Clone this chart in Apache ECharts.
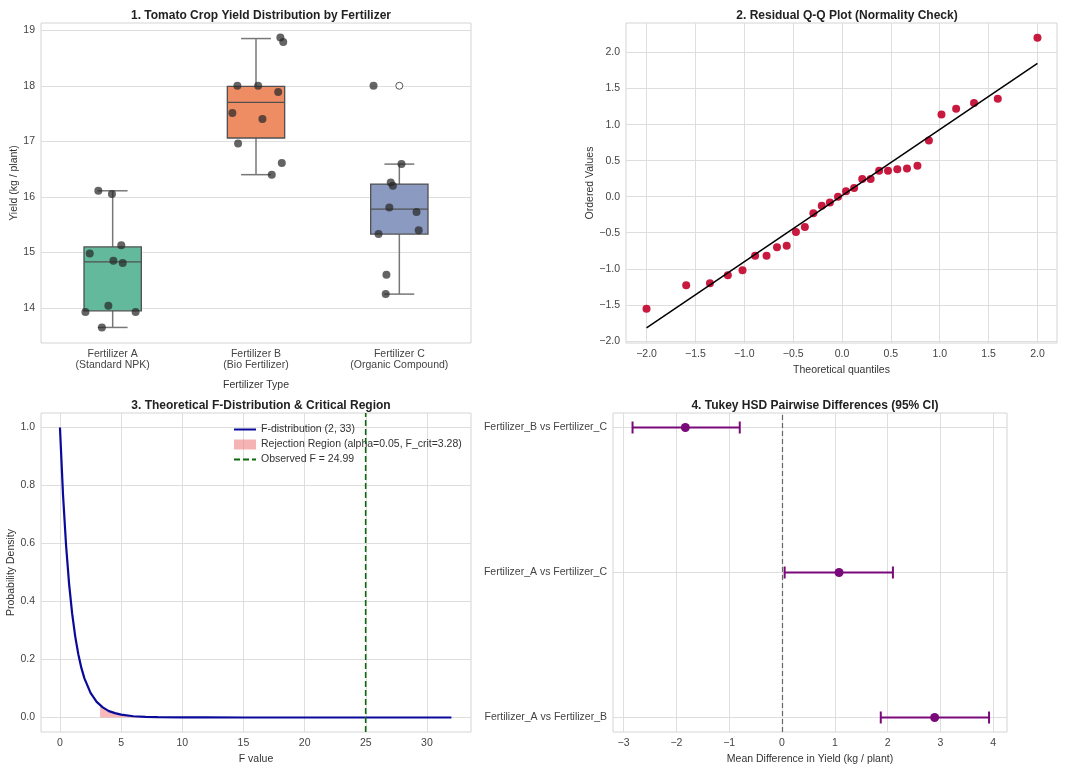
<!DOCTYPE html>
<html>
<head>
<meta charset="utf-8">
<title>Tomato Fertilizer ANOVA</title>
<script src="https://cdn.jsdelivr.net/npm/echarts@6/dist/echarts.min.js"></script>
<style>
html,body{margin:0;padding:0;background:#fff;}
#main{width:1080px;height:769px;}
</style>
</head>
<body>
<div id="main"></div>
<script>
// ---- panel 1: yield per fertilizer ----
var groups = ['Fertilizer A\n(Standard NPK)', 'Fertilizer B\n(Bio Fertilizer)', 'Fertilizer C\n(Organic Compound)'];
// [low whisker, Q1, median, Q3, high whisker]
var boxA = [13.65, 13.95, 14.83, 15.10, 16.11];
var boxB = [16.40, 17.06, 17.70, 17.99, 18.85];
var boxC = [14.25, 15.33, 15.78, 16.23, 16.59];
var yieldA = [16.11, 16.05, 15.13, 14.98, 14.85, 14.81, 14.04, 13.93, 13.93, 13.65];
var jitterA = [-0.10, -0.005, 0.06, -0.16, 0.005, 0.07, -0.03, -0.19, 0.16, -0.075];
var yieldB = [18.87, 18.79, 18.00, 18.00, 17.89, 17.51, 17.40, 16.96, 16.61, 16.40];
var jitterB = [0.17, 0.19, -0.13, 0.015, 0.155, -0.165, 0.045, -0.125, 0.18, 0.11];
var yieldC = [18.00, 16.59, 16.26, 16.20, 15.81, 15.73, 15.40, 15.33, 14.60, 14.25];
var jitterC = [-0.18, 0.015, -0.06, -0.045, -0.07, 0.12, 0.135, -0.145, -0.09, -0.095];
var outlierGroup = [2];
var outlierValue = [18.0];
var yieldTicks = [14, 15, 16, 17, 18, 19];

// ---- panel 2: Q-Q plot ----
var qqTheo = [-2.0, -1.594, -1.351, -1.168, -1.018, -0.889, -0.772, -0.665, -0.566, -0.471,
  -0.380, -0.293, -0.207, -0.124, -0.041, 0.041, 0.124, 0.207, 0.293, 0.380,
  0.471, 0.566, 0.665, 0.772, 0.889, 1.018, 1.168, 1.351, 1.594, 2.0];
var qqResid = [-1.555, -1.227, -1.20, -1.09, -1.02, -0.82, -0.82, -0.70, -0.68, -0.49,
  -0.42, -0.23, -0.125, -0.08, 0.0, 0.074, 0.12, 0.245, 0.245, 0.36,
  0.36, 0.38, 0.39, 0.43, 0.78, 1.14, 1.22, 1.30, 1.36, 2.205];
var qqLineX = [-2.0, 2.0];
var qqLineY = [-1.82, 1.85];
var qqXTicks = [-2.0, -1.5, -1.0, -0.5, 0.0, 0.5, 1.0, 1.5, 2.0];
var qqYTicks = [-2.0, -1.5, -1.0, -0.5, 0.0, 0.5, 1.0, 1.5, 2.0];

// ---- panel 3: F distribution ----
var fX = [0, 0.25, 0.5, 0.75, 1, 1.25, 1.5, 1.75, 2, 2.5, 3, 3.5, 4, 4.5, 5, 6, 7, 8, 10, 12, 15, 20, 25, 32];
var fY = [1.0, 0.768, 0.593, 0.459, 0.357, 0.279, 0.218, 0.171, 0.135, 0.085, 0.054, 0.035, 0.022, 0.015, 0.0097, 0.0044, 0.0021, 0.001, 0.00025, 0.0001, 0, 0, 0, 0];
var rejX = [3.28, 3.5, 4, 4.5, 5, 6, 7, 8, 10, 12, 15, 20, 25, 32];
var rejY = [0.042, 0.035, 0.022, 0.015, 0.0097, 0.0044, 0.0021, 0.001, 0.00025, 0.0001, 0, 0, 0, 0];
var observedF = 24.99;
var fXTicks = [0, 5, 10, 15, 20, 25, 30];
var fYTicks = [0, 0.2, 0.4, 0.6, 0.8, 1.0];

// ---- panel 4: Tukey HSD ----
var pairs = ['Fertilizer_A vs Fertilizer_B', 'Fertilizer_A vs Fertilizer_C', 'Fertilizer_B vs Fertilizer_C'];
var meanDiff = [2.89, 1.08, -1.83];
var ciLow = [1.87, 0.05, -2.83];
var ciHigh = [3.92, 2.10, -0.80];
var tukeyTicks = [-3, -2, -1, 0, 1, 2, 3, 4];
var pairTicks = [0, 1, 2];

var FONT = '"Liberation Sans", Arial, sans-serif';
var boxColors = ['#63b99b', '#ee8c64', '#8b9ac1'];

function fmt(v, d) {
  var s = d == null ? String(v) : v.toFixed(d);
  return s.replace('-', '\u2212');
}

function valAxis(o) {
  var base = {
    type: 'value',
    axisLine: {show: false},
    axisTick: {show: false, customValues: o.ticks},
    axisLabel: {customValues: o.ticks, color: '#444', fontSize: 10.5, fontFamily: FONT, margin: 6, formatter: o.formatter},
    splitLine: {show: o.split !== false, lineStyle: {color: '#dedede', width: 1}},
    nameTextStyle: {color: '#333', fontSize: 10.5, fontFamily: FONT},
    nameLocation: 'middle'
  };
  delete o.ticks; delete o.formatter; delete o.split;
  return Object.assign(base, o);
}

var boxData = [boxA, boxB, boxC].map(function (b, i) { return [i].concat(b); });
var dots = [];
[[yieldA, jitterA], [yieldB, jitterB], [yieldC, jitterC]].forEach(function (g, i) {
  g[0].forEach(function (v, k) { dots.push([i + g[1][k], v]); });
});
var outliers = outlierGroup.map(function (g, i) { return [g, outlierValue[i]]; });
var qqPts = qqTheo.map(function (x, i) { return [x, qqResid[i]]; });
var qqLine = qqLineX.map(function (x, i) { return [x, qqLineY[i]]; });
var fCurve = fX.map(function (x, i) { return [x, fY[i]]; });
var rejArea = rejX.map(function (x, i) { return [x, rejY[i]]; });
var tukeyBars = pairs.map(function (p, i) { return [ciLow[i], ciHigh[i], i]; });
var tukeyMeans = pairs.map(function (p, i) { return [meanDiff[i], i]; });

function renderBox(params, api) {
  var x = api.value(0);
  var lo = api.coord([x, api.value(1)]);
  var q1 = api.coord([x, api.value(2)]);
  var md = api.coord([x, api.value(3)]);
  var q3 = api.coord([x, api.value(4)]);
  var hi = api.coord([x, api.value(5)]);
  var bw = api.size([0.4, 0])[0];
  var cw = bw * 0.52;
  var wh = {stroke: '#777', lineWidth: 1.5};
  var ed = '#505050';
  return {type: 'group', children: [
    {type: 'line', shape: {x1: lo[0], y1: lo[1], x2: q1[0], y2: q1[1]}, style: wh},
    {type: 'line', shape: {x1: q3[0], y1: q3[1], x2: hi[0], y2: hi[1]}, style: wh},
    {type: 'line', shape: {x1: lo[0] - cw / 2, y1: lo[1], x2: lo[0] + cw / 2, y2: lo[1]}, style: wh},
    {type: 'line', shape: {x1: hi[0] - cw / 2, y1: hi[1], x2: hi[0] + cw / 2, y2: hi[1]}, style: wh},
    {type: 'rect', shape: {x: md[0] - bw / 2, y: q3[1], width: bw, height: q1[1] - q3[1]},
      style: {fill: boxColors[params.dataIndex], stroke: ed, lineWidth: 1.3}},
    {type: 'line', shape: {x1: md[0] - bw / 2, y1: md[1], x2: md[0] + bw / 2, y2: md[1]}, style: {stroke: ed, lineWidth: 1.3}}
  ]};
}

function renderErr(params, api) {
  var a = api.coord([api.value(0), api.value(2)]);
  var b = api.coord([api.value(1), api.value(2)]);
  var st = {stroke: '#7a0a7a', lineWidth: 2};
  return {type: 'group', children: [
    {type: 'line', shape: {x1: a[0], y1: a[1], x2: b[0], y2: b[1]}, style: st},
    {type: 'line', shape: {x1: a[0], y1: a[1] - 6, x2: a[0], y2: a[1] + 6}, style: st},
    {type: 'line', shape: {x1: b[0], y1: b[1] - 6, x2: b[0], y2: b[1] + 6}, style: st}
  ]};
}

var titleStyle = {fontSize: 12, fontWeight: 'bold', color: '#222', fontFamily: FONT};
var gridBase = {show: true, backgroundColor: '#fff', borderColor: '#d4d4d4', borderWidth: 1};
var noSymbol = {opacity: 0};

var chart = echarts.init(document.getElementById('main'));
chart.setOption({
  animation: false,
  backgroundColor: '#fff',
  title: [
    {text: '1. Tomato Crop Yield Distribution by Fertilizer', left: 256, top: 5, textAlign: 'center', textStyle: titleStyle},
    {text: '2. Residual Q-Q Plot (Normality Check)', left: 842, top: 5, textAlign: 'center', textStyle: titleStyle},
    {text: '3. Theoretical F-Distribution & Critical Region', left: 256, top: 395, textAlign: 'center', textStyle: titleStyle},
    {text: '4. Tukey HSD Pairwise Differences (95% CI)', left: 810, top: 395, textAlign: 'center', textStyle: titleStyle}
  ],
  legend: {
    left: 228, top: 419, orient: 'vertical', itemWidth: 22, itemHeight: 10, itemGap: 4,
    textStyle: {fontSize: 10.5, color: '#333', fontFamily: FONT},
    data: [
      {name: 'F-distribution (2, 33)', itemStyle: noSymbol},
      {name: 'Rejection Region (alpha=0.05, F_crit=3.28)', icon: 'rect'},
      {name: 'Observed F = 24.99', itemStyle: noSymbol}
    ]
  },
  grid: [
    Object.assign({left: 41, top: 23, width: 430, height: 320}, gridBase),
    Object.assign({left: 626, top: 23, width: 431, height: 320}, gridBase),
    Object.assign({left: 41, top: 413, width: 430, height: 319}, gridBase),
    Object.assign({left: 613, top: 413, width: 394, height: 319}, gridBase)
  ],
  xAxis: [
    valAxis({gridIndex: 0, min: -0.5, max: 2.5, ticks: [0, 1, 2], split: false,
      formatter: function (v) { return groups[Math.round(v)]; },
      name: 'Fertilizer Type', nameGap: 37}),
    valAxis({gridIndex: 1, min: -2.21, max: 2.2, ticks: qqXTicks,
      formatter: function (v) { return fmt(v, 1); },
      name: 'Theoretical quantiles', nameGap: 22}),
    valAxis({gridIndex: 2, min: -1.55, max: 33.6, ticks: fXTicks,
      formatter: function (v) { return fmt(v); },
      name: 'F value', nameGap: 22}),
    valAxis({gridIndex: 3, min: -3.2, max: 4.26, ticks: tukeyTicks,
      formatter: function (v) { return fmt(v); },
      name: 'Mean Difference in Yield (kg / plant)', nameGap: 22})
  ],
  yAxis: [
    valAxis({gridIndex: 0, min: 13.37, max: 19.13, ticks: yieldTicks,
      formatter: function (v) { return fmt(v); },
      name: 'Yield (kg / plant)', nameGap: 21}),
    valAxis({gridIndex: 1, min: -2.03, max: 2.41, ticks: qqYTicks,
      formatter: function (v) { return fmt(v, 1); },
      name: 'Ordered Values', nameGap: 28}),
    valAxis({gridIndex: 2, min: -0.05, max: 1.05, ticks: fYTicks,
      formatter: function (v) { return fmt(v, 1); },
      name: 'Probability Density', nameGap: 23}),
    valAxis({gridIndex: 3, min: -0.1, max: 2.1, ticks: pairTicks,
      formatter: function (v) { return pairs[Math.round(v)]; }})
  ],
  series: [
    {type: 'custom', xAxisIndex: 0, yAxisIndex: 0, renderItem: renderBox, data: boxData, z: 2},
    {type: 'scatter', xAxisIndex: 0, yAxisIndex: 0, data: outliers, symbolSize: 7, z: 3,
      itemStyle: {color: '#fff', borderColor: '#555', borderWidth: 1, opacity: 1}},
    {type: 'scatter', xAxisIndex: 0, yAxisIndex: 0, data: dots, symbolSize: 8, z: 4,
      itemStyle: {color: 'rgba(40,40,40,0.72)', opacity: 1}},

    {type: 'scatter', xAxisIndex: 1, yAxisIndex: 1, data: qqPts, symbolSize: 8, z: 3,
      itemStyle: {color: '#c8193f', opacity: 1}},
    {type: 'line', xAxisIndex: 1, yAxisIndex: 1, data: qqLine, symbol: 'none', z: 4,
      lineStyle: {color: '#000', width: 1.5}},

    {name: 'Rejection Region (alpha=0.05, F_crit=3.28)', type: 'line', xAxisIndex: 2, yAxisIndex: 2,
      data: rejArea, symbol: 'none', color: 'rgba(240,128,128,0.6)', z: 2,
      lineStyle: {width: 0}, areaStyle: {color: 'rgba(240,128,128,0.55)', opacity: 1}},
    {name: 'F-distribution (2, 33)', type: 'line', xAxisIndex: 2, yAxisIndex: 2, data: fCurve,
      symbol: 'none', color: '#0a0a9a', z: 3, lineStyle: {color: '#0a0a9a', width: 2.2}},
    {name: 'Observed F = 24.99', type: 'line', xAxisIndex: 2, yAxisIndex: 2,
      data: [[observedF, -0.05], [observedF, 1.05]], symbol: 'none', color: '#0b6b0b', z: 4,
      lineStyle: {color: '#0b6b0b', width: 1.6, type: [6, 3]}},

    {type: 'custom', xAxisIndex: 3, yAxisIndex: 3, renderItem: renderErr, data: tukeyBars, z: 3},
    {type: 'scatter', xAxisIndex: 3, yAxisIndex: 3, data: tukeyMeans, symbolSize: 9, z: 4,
      itemStyle: {color: '#7a0a7a', opacity: 1},
      markLine: {silent: true, symbol: 'none', label: {show: false},
        lineStyle: {color: '#666', type: [5, 3], width: 1.2},
        data: [{xAxis: 0}]}}
  ]
});
</script>
</body>
</html>
